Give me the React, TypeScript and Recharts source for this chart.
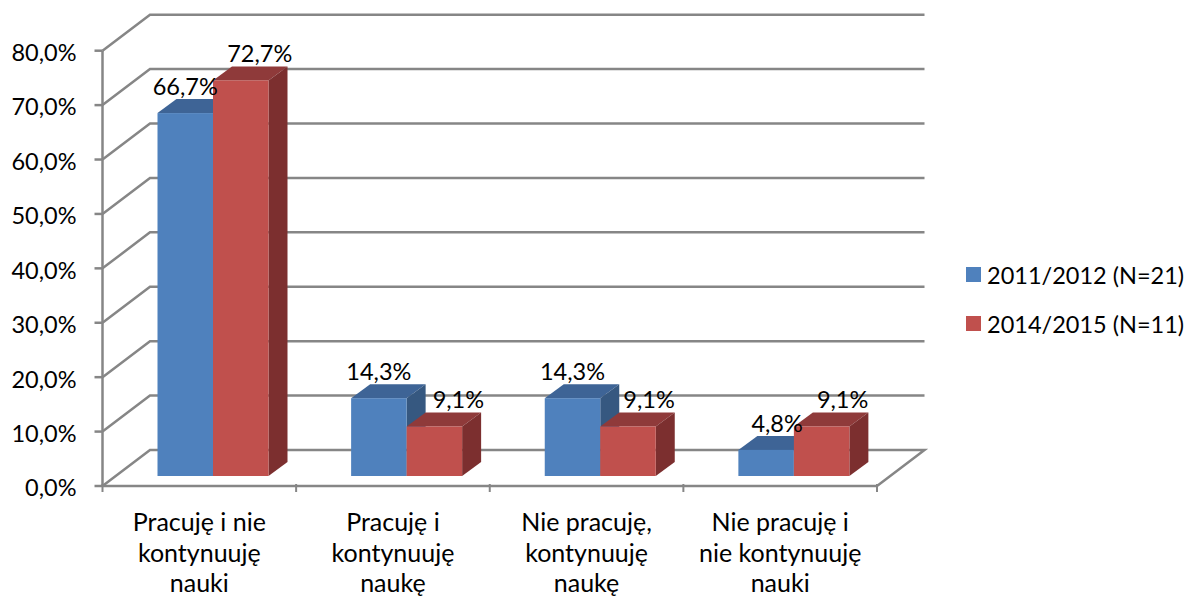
import { Bar, BarChart, CartesianGrid, LabelList, Legend, XAxis, YAxis } from 'recharts';

const categories = [
  'Pracuję i nie\nkontynuuję\nnauki',
  'Pracuję i\nkontynuuję\nnaukę',
  'Nie pracuję,\nkontynuuję\nnaukę',
  'Nie pracuję i\nnie kontynuuję\nnauki',
];
const series2011 = [66.7, 14.3, 14.3, 4.8];
const series2014 = [72.7, 9.1, 9.1, 9.1];
const name2011 = '2011/2012 (N=21)';
const name2014 = '2014/2015 (N=11)';
const yTicks = [0, 10, 20, 30, 40, 50, 60, 70, 80];

const data = categories.map((category, i) => ({
  category,
  a: series2011[i],
  b: series2014[i],
}));

const FONT = 'Lato, sans-serif';
const FONT_SIZE = 23.5;
const CATEGORY_FONT_SIZE = 25;
const GRID = '#868686';
const WIDTH = 1189;
const HEIGHT = 596;
const LEFT = 102.5;
const RIGHT = 877;
const BAND = (RIGHT - LEFT) / categories.length;

// fake 3D: depth of the back wall and of the bars
const WALL_DX = 47.5;
const WALL_DY = 36;
const BAR_DX = 19;
const BAR_DY = 14;
// bars stand in the middle of the floor, not on the front edge
const SHIFT_X = 14;
const SHIFT_Y = -10;

const fmt = (v: number) => v.toFixed(1).replace('.', ',') + '%';

function Bar3D({ x, y, width, height, fill, top, side }: any) {
  const l = x + SHIFT_X;
  const t = y + SHIFT_Y;
  const r = l + width;
  const b = t + height;
  return (
    <g>
      <polygon points={`${l},${t} ${l + BAR_DX},${t - BAR_DY} ${r + BAR_DX},${t - BAR_DY} ${r},${t}`} fill={top} />
      <polygon points={`${r},${t} ${r + BAR_DX},${t - BAR_DY} ${r + BAR_DX},${b - BAR_DY} ${r},${b}`} fill={side} />
      <rect x={l} y={t} width={width} height={height} fill={fill} />
    </g>
  );
}

function GridLine({ x1, x2, y1, index }: any) {
  const backY = y1 - WALL_DY;
  let d = `M${x1},${y1} L${x1 + WALL_DX},${backY} L${x2 + WALL_DX},${backY}`;
  // the zero line closes the floor on the right
  if (Math.abs(y1 - 486) < 1) d += ` L${x2},${y1}`;
  return <path key={index} d={d} fill="none" stroke={GRID} strokeWidth={2.5} />;
}

function CategoryTick({ x, y, payload, index }: any) {
  const lines = String(payload.value).split('\n');
  return (
    <g>
      <line x1={x - BAND / 2} x2={x - BAND / 2} y1={y - 8} y2={y} stroke={GRID} strokeWidth={2} />
      {index === categories.length - 1 && (
        <line x1={x + BAND / 2} x2={x + BAND / 2} y1={y - 8} y2={y} stroke={GRID} strokeWidth={2} />
      )}
      <text x={x} textAnchor="middle" fontFamily={FONT} fontSize={CATEGORY_FONT_SIZE} fill="#000">
        {lines.map((line, i) => (
          <tspan key={i} x={x} y={y + 39 + i * 30.5}>{line}</tspan>
        ))}
      </text>
    </g>
  );
}

function barLabel(nudge: number[]) {
  return ({ x, y, width, value, index }: any) => (
    <text
      x={x + SHIFT_X + width / 2 + nudge[index]}
      y={y + SHIFT_Y - 18}
      textAnchor="middle"
      fontFamily={FONT}
      fontSize={FONT_SIZE}
      fill="#000"
    >
      {fmt(value)}
    </text>
  );
}

function LegendBox({ payload }: any) {
  return (
    <div style={{ fontFamily: FONT, fontSize: FONT_SIZE, color: '#000' }}>
      {payload.map((item: any) => (
        <div key={item.value} style={{ display: 'flex', alignItems: 'center', height: 49, whiteSpace: 'nowrap' }}>
          <span style={{ width: 15, height: 15, background: item.color, marginRight: 6 }} />
          {item.value}
        </div>
      ))}
    </div>
  );
}

export default function App() {
  return (
    <div style={{ position: 'absolute', left: 0, top: 0, width: WIDTH, height: HEIGHT }}>
      <BarChart
        width={WIDTH}
        height={HEIGHT}
        data={data}
        barSize={55.5}
        barGap={0}
        margin={{ top: 50.7, right: 90, bottom: 0, left: 0 }}
      >
        <CartesianGrid vertical={false} horizontal={(props: any) => <GridLine {...props} />} />
        <XAxis
          dataKey="category"
          interval={0}
          height={110}
          tickLine={false}
          tickMargin={0}
          axisLine={{ stroke: GRID, strokeWidth: 2.5 }}
          tick={<CategoryTick />}
        />
        <YAxis
          width={LEFT}
          domain={[0, 80]}
          ticks={yTicks}
          interval={0}
          tickFormatter={fmt}
          tickSize={8}
          tickMargin={18}
          stroke={GRID}
          strokeWidth={2.5}
          tick={{ fill: '#000', fontFamily: FONT, fontSize: FONT_SIZE, dy: 2 }}
        />
        <Legend
          layout="vertical"
          align="right"
          verticalAlign="middle"
          width={222}
          content={<LegendBox />}
          wrapperStyle={{ left: 966, top: 250, right: 'auto' }}
        />
        <Bar dataKey="a" name={name2011} fill="#4F81BD" isAnimationActive={false}
          shape={(p: any) => <Bar3D {...p} top="#3E6496" side="#365880" />}>
          <LabelList dataKey="a" content={barLabel([0, 0, 0, 11])} />
        </Bar>
        <Bar dataKey="b" name={name2014} fill="#C0504D" isAnimationActive={false}
          shape={(p: any) => <Bar3D {...p} top="#8F3A3A" side="#7C2F2F" />}>
          <LabelList dataKey="b" content={barLabel([19, 24, 21, 21])} />
        </Bar>
      </BarChart>
    </div>
  );
}
